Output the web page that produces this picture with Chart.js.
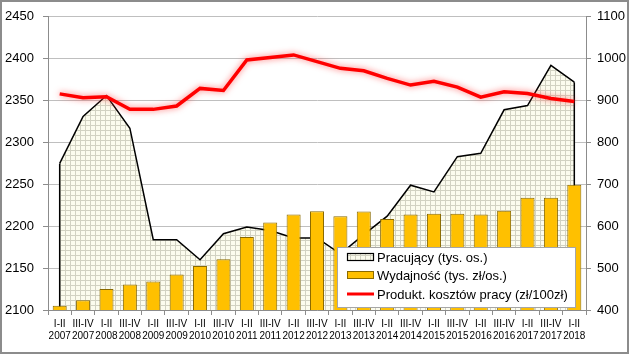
<!DOCTYPE html>
<html>
<head>
<meta charset="utf-8">
<script src="https://cdn.jsdelivr.net/npm/chart.js@4.4.1/dist/chart.umd.min.js"></script>
<style>
  body { margin: 0; background: #fff; }
  #wrap { position: relative; width: 629px; height: 354px; }
  #frame { position: absolute; left: 0; top: 0; width: 629px; height: 354px; box-sizing: border-box; border: 2px solid #8c8c8c; pointer-events: none; }
</style>
</head>
<body>
<div id="wrap">
  <canvas id="chart" width="629" height="354"></canvas>
  <div id="frame"></div>
</div>
<script>
// okresy (półrocza) i lata
const periods = [
  ['I-II', '2007'], ['III-IV', '2007'], ['I-II', '2008'], ['III-IV', '2008'],
  ['I-II', '2009'], ['III-IV', '2009'], ['I-II', '2010'], ['III-IV', '2010'],
  ['I-II', '2011'], ['III-IV', '2011'], ['I-II', '2012'], ['III-IV', '2012'],
  ['I-II', '2013'], ['III-IV', '2013'], ['I-II', '2014'], ['III-IV', '2014'],
  ['I-II', '2015'], ['III-IV', '2015'], ['I-II', '2016'], ['III-IV', '2016'],
  ['I-II', '2017'], ['III-IV', '2017'], ['I-II', '2018']
];

// Pracujący (tys. os.) - lewa oś
const pracujacy = [2275, 2331, 2356, 2317, 2184, 2184, 2160, 2191, 2199, 2195, 2186, 2186,
  2167, 2190, 2212, 2249, 2241, 2283, 2287, 2339, 2344, 2392, 2372];

// Wydajność (tys. zł/os.) - prawa oś
const wydajnosc = [410, 423, 450, 461, 468, 485, 505, 521, 574, 609, 628, 636,
  624, 635, 617, 628, 630, 630, 628, 637, 668, 668, 699];

// Produkt. kosztów pracy (zł/100zł) - prawa oś
const produktywnosc = [916, 907, 909, 879, 879, 887, 929, 924, 997, 1003, 1009, 993,
  977, 971, 953, 937, 946, 932, 908, 921, 917, 905, 898];

const leftTicks = { min: 2100, max: 2450, step: 50 };
const rightTicks = { min: 400, max: 1100, step: 100 };

const legendItems = ['Pracujący (tys. os.)', 'Wydajność (tys. zł/os.)', 'Produkt. kosztów pracy (zł/100zł)'];

const FONT = "'Liberation Sans', Arial, sans-serif";

// kratka pod obszarem
function makeHatch() {
  const c = document.createElement('canvas');
  c.width = 5; c.height = 5;
  const g = c.getContext('2d');
  g.fillStyle = '#fcfcee';
  g.fillRect(0, 0, 5, 5);
  g.fillStyle = '#d2d2c2';
  g.fillRect(0, 0, 5, 1);
  g.fillRect(0, 0, 1, 5);
  return g.createPattern(c, 'repeat');
}
const hatch = makeHatch();

const ORANGE = '#ffc000';
const BAR_EDGE = '#8a6a00';
const RED = '#ff0000';

// pionowe krawędzie obszaru
const areaEdges = {
  id: 'areaEdges',
  afterDatasetDraw(chart, args) {
    if (args.index !== 0) return;
    const pts = chart.getDatasetMeta(0).data;
    const bottom = chart.scales.y.bottom;
    const ctx = chart.ctx;
    ctx.save();
    ctx.strokeStyle = '#000';
    ctx.lineWidth = 1.5;
    ctx.beginPath();
    ctx.moveTo(pts[0].x, pts[0].y);
    ctx.lineTo(pts[0].x, bottom);
    const l = pts[pts.length - 1];
    ctx.moveTo(l.x, l.y);
    ctx.lineTo(l.x, bottom);
    ctx.stroke();
    ctx.restore();
  }
};

// poświata czerwonej linii
const glow = {
  id: 'glow',
  beforeDatasetDraw(chart, args) {
    if (args.index !== 2) return;
    const ctx = chart.ctx;
    ctx.save();
    ctx.shadowColor = 'rgba(255,70,70,0.75)';
    ctx.shadowBlur = 6;
  },
  afterDatasetDraw(chart, args) {
    if (args.index !== 2) return;
    chart.ctx.restore();
  }
};

// legenda wewnątrz wykresu
const boxLegend = {
  id: 'boxLegend',
  afterDraw(chart) {
    const ctx = chart.ctx;
    const x = 337, y = 247, w = 238, h = 60;
    ctx.save();
    ctx.fillStyle = '#fff';
    ctx.fillRect(x, y, w, h);
    ctx.strokeStyle = '#a6a6a6';
    ctx.lineWidth = 1;
    ctx.strokeRect(x + 0.5, y + 0.5, w, h);
    const rows = [y + 10, y + 28, y + 47];
    ctx.font = '13px ' + FONT;
    ctx.textBaseline = 'middle';
    // symbol 1
    ctx.fillStyle = hatch;
    ctx.fillRect(347, rows[0] - 3.5, 27, 7);
    ctx.strokeStyle = '#000';
    ctx.lineWidth = 1.2;
    ctx.strokeRect(347.5, rows[0] - 3.5, 26, 7);
    // symbol 2
    ctx.fillStyle = ORANGE;
    ctx.fillRect(347, rows[1] - 3.5, 27, 7);
    ctx.strokeStyle = BAR_EDGE;
    ctx.lineWidth = 1;
    ctx.strokeRect(347.5, rows[1] - 3.5, 26, 7);
    // symbol 3
    ctx.strokeStyle = RED;
    ctx.lineWidth = 3;
    ctx.beginPath();
    ctx.moveTo(347, rows[2]);
    ctx.lineTo(374, rows[2]);
    ctx.stroke();
    ctx.fillStyle = '#000';
    legendItems.forEach((t, i) => ctx.fillText(t, 377, rows[i] + 1));
    ctx.restore();
  }
};

new Chart(document.getElementById('chart'), {
  type: 'bar',
  data: {
    labels: periods,
    datasets: [
      {
        type: 'line',
        label: legendItems[0],
        data: pracujacy,
        yAxisID: 'y',
        borderColor: '#000',
        borderWidth: 1.5,
        backgroundColor: hatch,
        fill: 'start',
        pointRadius: 0,
        tension: 0,
        order: 3
      },
      {
        type: 'bar',
        label: legendItems[1],
        data: wydajnosc,
        yAxisID: 'y1',
        backgroundColor: ORANGE,
        borderColor: BAR_EDGE,
        borderWidth: 1,
        categoryPercentage: 1,
        barPercentage: 0.6,
        order: 2
      },
      {
        type: 'line',
        label: legendItems[2],
        data: produktywnosc,
        yAxisID: 'y1',
        borderColor: RED,
        borderWidth: 3.5,
        pointRadius: 0,
        tension: 0,
        fill: false,
        order: 1
      }
    ]
  },
  options: {
    responsive: false,
    animation: false,
    layout: { padding: { top: 16, left: 0, right: 0, bottom: 0 } },
    plugins: {
      legend: { display: false },
      tooltip: { enabled: false }
    },
    scales: {
      x: {
        offset: true,
        grid: { offset: true, drawOnChartArea: false, color: '#8c8c8c', tickLength: 5 },
        border: { color: '#8c8c8c' },
        ticks: { autoSkip: false, maxRotation: 0, minRotation: 0, color: '#000', padding: 3,
          font: { family: FONT, size: 10 } },
        afterFit(s) { s.height = 44; }
      },
      y: {
        position: 'left',
        min: leftTicks.min,
        max: leftTicks.max,
        grid: { color: '#bfbfbf', tickLength: 5, tickColor: '#8c8c8c' },
        border: { color: '#8c8c8c' },
        ticks: { stepSize: leftTicks.step, color: '#000', padding: 9,
          font: { family: FONT, size: 13 }, callback: v => String(v) },
        afterFit(s) { s.width = 48; }
      },
      y1: {
        position: 'right',
        min: rightTicks.min,
        max: rightTicks.max,
        grid: { drawOnChartArea: false, tickLength: 5, color: '#8c8c8c' },
        border: { color: '#8c8c8c' },
        ticks: { stepSize: rightTicks.step, color: '#000', padding: 6,
          font: { family: FONT, size: 13 }, callback: v => String(v) },
        afterFit(s) { s.width = 43; }
      }
    }
  },
  plugins: [areaEdges, glow, boxLegend]
});
</script>
</body>
</html>
